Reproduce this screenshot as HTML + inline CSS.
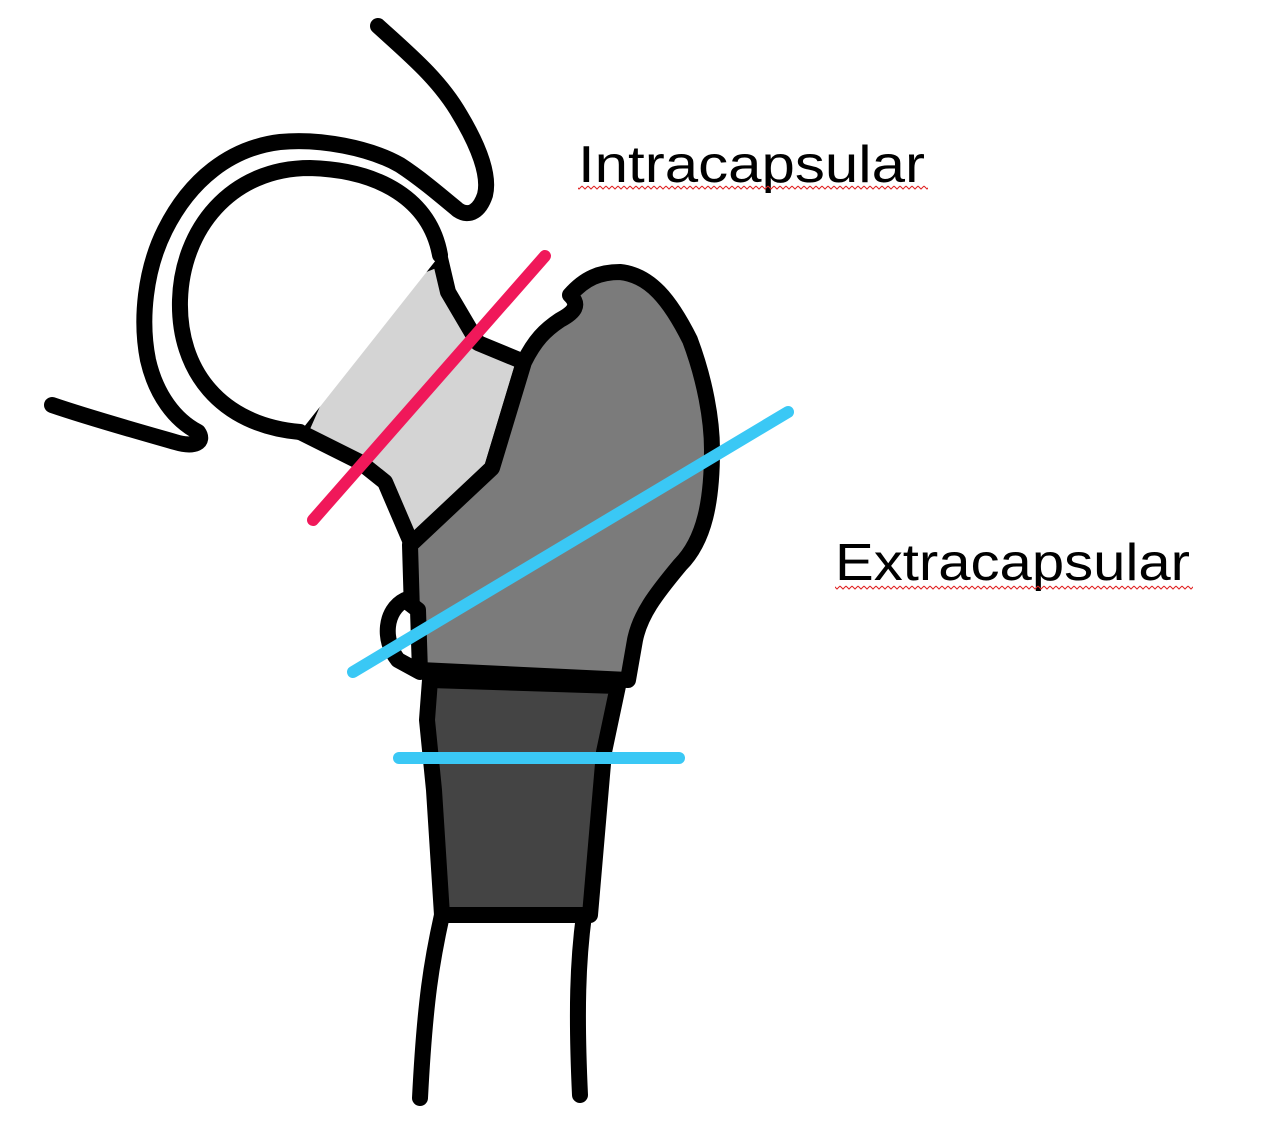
<!DOCTYPE html>
<html><head><style>
html,body{margin:0;padding:0;background:#fff;}
svg{display:block}
</style></head><body>
<svg width="1285" height="1122" viewBox="0 0 1285 1122" xmlns="http://www.w3.org/2000/svg">
<defs>
<pattern id="w" x="0" y="0" width="6" height="5" patternUnits="userSpaceOnUse">
<path d="M0,1 l3,3 l3,-3" fill="none" stroke="#e02020" stroke-width="1"/>
</pattern>
</defs>
<g stroke="#000" stroke-width="16" stroke-linejoin="round" stroke-linecap="round">
<path d="M415,268 L440,258 L448,292 L478,343 L524,362 L492,468 L412,545 L385,482 L360,462 L300,432 L345,330 Z" fill="#d4d4d4"/>
<path d="M524,362 C535,340 545,330 560,320 C575,312 580,305 570,295 C585,278 600,272 620,272 C650,275 670,300 690,340 C705,380 712,420 712,450 C712,500 705,540 680,565 C655,595 640,615 635,640 L628,680 L420,670 L412,612 L410,545 L492,468 Z" fill="#7b7b7b"/>
<path d="M405,600 C385,610 382,640 398,660 L420,672 L418,610 Z" fill="#fff"/>
<path d="M430,680 L618,686 L604,752 L590,915 L442,915 L434,790 L427,720 Z" fill="#444"/>
<path d="M442,915 C432,960 425,1000 420,1098" fill="none"/>
<path d="M584,915 C578,960 576,1010 580,1095" fill="none"/>
<path d="M440,255 C430,200 380,170 310,168 C230,168 182,230 180,300 C178,370 220,425 300,432" fill="#fff"/>
<path d="M378,26 C410,55 440,80 460,115 C478,145 490,175 485,195 C480,210 470,218 458,210 C440,195 420,178 400,165 C370,148 320,138 280,142 C230,148 190,180 165,230 C145,270 140,320 148,360 C156,395 175,420 198,432 C205,442 195,448 175,442 C140,432 90,418 52,405" fill="none"/>
</g>
<line x1="313" y1="520" x2="545" y2="256" stroke="#f0185a" stroke-width="12" stroke-linecap="round"/>
<line x1="353" y1="672" x2="788" y2="412" stroke="#3ac8f5" stroke-width="12" stroke-linecap="round"/>
<line x1="399" y1="758" x2="679" y2="758" stroke="#3ac8f5" stroke-width="12" stroke-linecap="round"/>
<g font-family="Liberation Sans, sans-serif" font-size="52" fill="#000">
<text x="578" y="182" textLength="347" lengthAdjust="spacingAndGlyphs">Intracapsular</text>
<text x="835" y="580" textLength="355" lengthAdjust="spacingAndGlyphs">Extracapsular</text>
</g>
<rect x="578" y="185" width="350" height="5" fill="url(#w)"/>
<rect x="835" y="585" width="358" height="5" fill="url(#w)"/>
</svg>
</body></html>
